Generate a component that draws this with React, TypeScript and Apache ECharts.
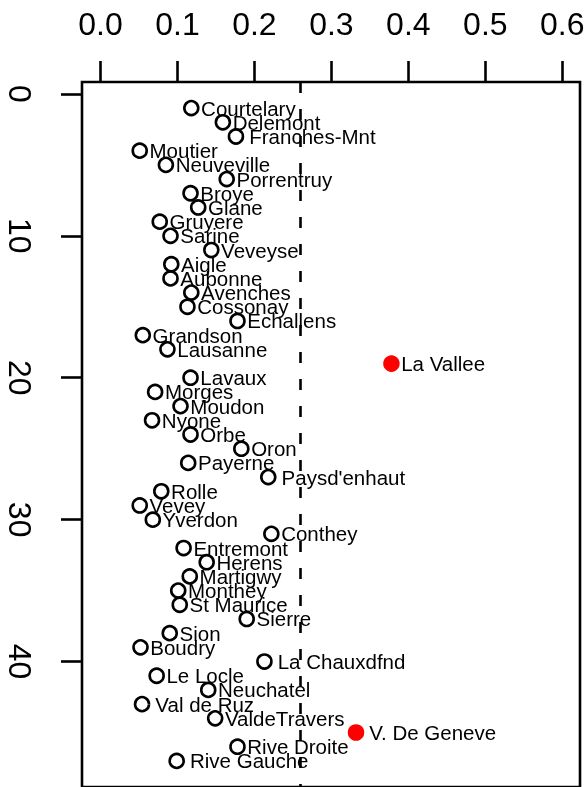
import React, { useEffect, useRef } from "react";
import * as echarts from "echarts";

const provinces = [
  "Courtelary", "Delemont", "Franches-Mnt", "Moutier", "Neuveville", "Porrentruy",
  "Broye", "Glane", "Gruyere", "Sarine", "Veveyse", "Aigle", "Aubonne", "Avenches",
  "Cossonay", "Echallens", "Grandson", "Lausanne", "La Vallee", "Lavaux", "Morges",
  "Moudon", "Nyone", "Orbe", "Oron", "Payerne", "Paysd'enhaut", "Rolle", "Vevey",
  "Yverdon", "Conthey", "Entremont", "Herens", "Martigwy", "Monthey", "St Maurice",
  "Sierre", "Sion", "Boudry", "La Chauxdfnd", "Le Locle", "Neuchatel", "Val de Ruz",
  "ValdeTravers", "V. De Geneve", "Rive Droite", "Rive Gauche",
];

const leverage = [
  0.118, 0.159, 0.176, 0.051, 0.085, 0.164,
  0.117, 0.127, 0.077, 0.091, 0.144, 0.092, 0.091, 0.118,
  0.113, 0.178, 0.055, 0.087, 0.378, 0.117, 0.071,
  0.104, 0.067, 0.117, 0.183, 0.114, 0.218, 0.079, 0.051,
  0.068, 0.222, 0.108, 0.138, 0.116, 0.101, 0.103,
  0.190, 0.090, 0.052, 0.213, 0.073, 0.140, 0.054,
  0.149, 0.332, 0.178, 0.099,
];

const highlighted = ["La Vallee", "V. De Geneve"];
const cutoff = 0.255;
const xTickValues = [0, 0.1, 0.2, 0.3, 0.4, 0.5, 0.6];
const yTickValues = [0, 10, 20, 30, 40];
// labels drawn with a slightly larger gap from their point
const wideGapLabels = ["Franches-Mnt", "Paysd'enhaut", "La Chauxdfnd", "V. De Geneve", "Rive Gauche", "Val de Ruz"];

export default function App() {
  const ref = useRef<HTMLDivElement>(null);
  useEffect(() => {
    if (!ref.current) return;
    const chart = echarts.init(ref.current, null, { renderer: "svg" });
    const font = "Liberation Sans";
    const data = provinces.map((name, i) => {
      const hot = highlighted.includes(name);
      return {
        name,
        value: [leverage[i], i + 1],
        label: { distance: wideGapLabels.includes(name) ? 5 : 1.5 },
        itemStyle: hot
          ? { color: "#ff0000", borderColor: "#ff0000", borderWidth: 2.5, opacity: 1 }
          : { color: "rgba(0,0,0,0)", borderColor: "#000", borderWidth: 2.6, opacity: 1 },
      };
    });
    chart.setOption({
      animation: false,
      grid: {
        left: 82,
        top: 82,
        width: 498,
        height: 706.6,
        show: true,
        borderColor: "#000",
        borderWidth: 2.6,
        backgroundColor: "transparent",
      },
      xAxis: {
        type: "value",
        position: "top",
        min: -0.024,
        max: 0.623,
        splitLine: { show: false },
        axisLine: { show: false, onZero: false },
        axisTick: {
          show: true,
          length: 21,
          inside: false,
          customValues: xTickValues,
          lineStyle: { color: "#000", width: 2.6 },
        },
        axisLabel: {
          show: true,
          customValues: xTickValues,
          formatter: (v: number) => v.toFixed(1),
          fontSize: 32,
          lineHeight: 32,
          fontFamily: font,
          color: "#000",
          margin: 42,
        },
      },
      yAxis: {
        type: "value",
        inverse: true,
        min: -0.84,
        max: 48.84,
        splitLine: { show: false },
        axisLine: { show: false, onZero: false },
        axisTick: {
          show: true,
          length: 21,
          customValues: yTickValues,
          lineStyle: { color: "#000", width: 2.6 },
        },
        axisLabel: {
          show: true,
          customValues: yTickValues,
          rotate: -90,
          fontSize: 32,
          lineHeight: 32,
          fontFamily: font,
          color: "#000",
          margin: 46,
        },
      },
      series: [
        {
          type: "scatter",
          symbol: "circle",
          symbolSize: 14,
          itemStyle: { opacity: 1 },
          data,
          label: {
            show: true,
            position: "right",
            distance: 1.5,
            formatter: (p: any) => p.name,
            fontSize: 20.5,
            fontFamily: font,
            color: "#000",
            opacity: 1,
          },
          markLine: {
            silent: true,
            symbol: "none",
            label: { show: false },
            lineStyle: { color: "#000", width: 2.6, type: [11, 16], opacity: 1 },
            data: [{ xAxis: cutoff }],
          },
        },
      ],
    });
    return () => chart.dispose();
  }, []);
  return (
    <div
      ref={ref}
      style={{ position: "fixed", left: 0, top: 0, width: 588, height: 787 }}
    />
  );
}
